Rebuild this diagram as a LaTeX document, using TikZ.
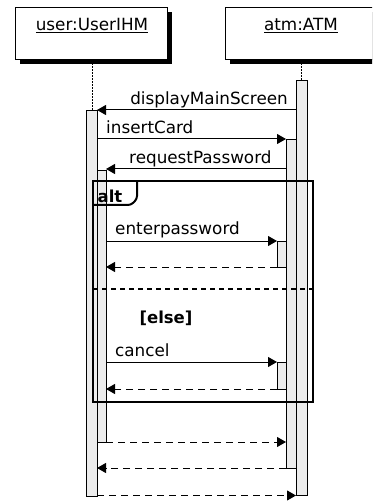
\documentclass[tikz,border=0pt]{standalone}
\usepackage{fontspec}
\setmainfont{DejaVu Sans}
\usetikzlibrary{arrows.meta,shadows}
\begin{document}
\begin{tikzpicture}[x=1pt,y=-1pt,
  txt/.style={inner sep=0pt,font=\fontsize{16.8}{20}\selectfont},
  btxt/.style={inner sep=0pt,font=\fontsize{16.5}{20}\selectfont\bfseries},
  objbox/.style={draw=black,line width=1pt,fill=white,minimum height=52pt,anchor=north west,inner sep=0pt,
    drop shadow={shadow xshift=4.5pt,shadow yshift=-4.5pt,fill=black,opacity=1}},
  actbar/.style={draw=black,line width=0.9pt,fill=gray!15,anchor=north west,inner sep=0pt},
  life/.style={line width=1pt,dash pattern=on 1.5pt off 1.5pt},
  msg/.style={line width=1pt,-{Triangle[length=9pt,width=10pt]}},
  ret/.style={msg,dash pattern=on 7pt off 5pt},
  frm/.style={line width=2pt}
]
\useasboundingbox (0,0) rectangle (372,502);
\clip (0,0) rectangle (372,502);
\fill[white] (0,0) rectangle (372,502);
% objects
\node[objbox,minimum width=152pt] (user) at (15,7) {};
\node[objbox,minimum width=155pt] (atm) at (225,7) {};
\node[txt,anchor=base] (userlbl) at (92,31) {\underline{user:UserIHM}};
\node[txt,anchor=base] (atmlbl) at (301,31) {\underline{atm:ATM}};
% activation bars
\node[actbar,minimum width=11pt,minimum height=415pt] (aA) at (296,80) {};
\node[actbar,minimum width=10pt,minimum height=329pt] (aB) at (286,139) {};
\node[actbar,minimum width=9pt,minimum height=26pt] (aC) at (277,241) {};
\node[actbar,minimum width=9pt,minimum height=27pt] (aD) at (277,362) {};
\node[actbar,minimum width=11pt,minimum height=386pt] (uA) at (86,110) {};
\node[actbar,minimum width=9pt,minimum height=272pt] (uB) at (97,170) {};
% lifelines
\coordinate (ul0) at (92,63.5);
\coordinate (ul1) at (92,110);
\coordinate (al0) at (301,63.5);
\coordinate (al1) at (301,80);
\draw[life] (ul0) -- (ul1);
\draw[life] (al0) -- (al1);
% alt frame
\coordinate (f1) at (93,181);
\coordinate (f2) at (313,402);
\draw[frm] (f1) rectangle (f2);
\coordinate (p1) at (93,205);
\coordinate (p2) at (137,181);
\draw[frm,rounded corners=3pt] (p1) -- (131,205) -- (137,199) -- (p2);
\node[btxt,anchor=base west] (altlbl) at (97.5,202.5) {alt};
\coordinate (s1) at (93,289);
\coordinate (s2) at (313,289);
\draw[frm,dash pattern=on 5pt off 4pt] (s1) -- (s2);
\node[btxt,anchor=base] (elselbl) at (166,323) {[else]};
% messages
\coordinate (m1a) at (296,110); \coordinate (m1b) at (97,110);
\coordinate (m2a) at (97,139); \coordinate (m2b) at (286,139);
\coordinate (m3a) at (286,169); \coordinate (m3b) at (106,169);
\coordinate (m4a) at (106,241); \coordinate (m4b) at (277,241);
\coordinate (m5a) at (277,267); \coordinate (m5b) at (106,267);
\coordinate (m6a) at (106,362); \coordinate (m6b) at (277,362);
\coordinate (m7a) at (277,389); \coordinate (m7b) at (106,389);
\coordinate (m8a) at (106,442); \coordinate (m8b) at (286,442);
\coordinate (m9a) at (286,468); \coordinate (m9b) at (97,468);
\coordinate (m10a) at (97,495.5); \coordinate (m10b) at (296,495.5);
\draw[msg] (m1a) -- (m1b);
\draw[msg] (m2a) -- (m2b);
\draw[msg] (m3a) -- (m3b);
\draw[msg] (m4a) -- (m4b);
\draw[ret] (m5a) -- (m5b);
\draw[msg] (m6a) -- (m6b);
\draw[ret] (m7a) -- (m7b);
\draw[ret] (m8a) -- (m8b);
\draw[ret] (m9a) -- (m9b);
\draw[ret] (m10a) -- (m10b);
% labels
\node[txt,anchor=base east] (l1) at (288,105) {displayMainScreen};
\node[txt,anchor=base west] (l2) at (106,134) {insertCard};
\node[txt,anchor=base west] (l3) at (129,163.5) {requestPassword};
\node[txt,anchor=base west] (l4) at (115,234) {enterpassword};
\node[txt,anchor=base west] (l6) at (115,356) {cancel};
\end{tikzpicture}
\end{document}
